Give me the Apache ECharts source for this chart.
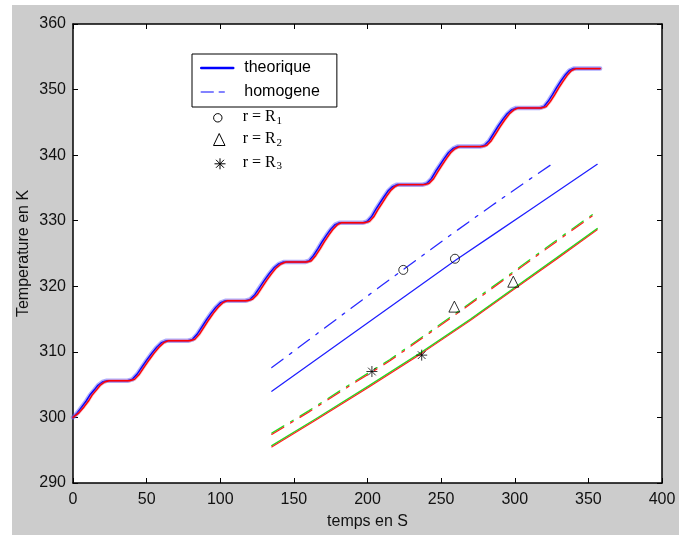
<!DOCTYPE html>
<html><head><meta charset="utf-8">
<script src="https://cdn.jsdelivr.net/npm/echarts@6/dist/echarts.min.js"></script>
<style>
html,body{margin:0;padding:0;background:#fff;}
#chart{width:686px;height:535px;background-color:#fff;background-image:linear-gradient(#cccccc,#cccccc);background-repeat:no-repeat;background-position:12px 5px;background-size:667px 530px;}
</style></head><body><div id="chart"></div>
<script>
// ---- data ----
const xMin = 0, xMax = 400, xStep = 50;
const yMin = 290, yMax = 360, yStep = 10;

// staircase (surface) temperature, theorique (blue)
const stairTime = [0,3,6,9,11.5,14.5,17,20,23,
  37,40.3,43.6,46.9,50.3,53.6,56.9,60.2,63.5,
  78,81.2,84.4,87.6,90.75,93.9,97.1,100.3,103.5,
  117,120.25,123.5,126.75,130,133.25,136.5,139.75,143,
  157.5,160.4,163.4,166.3,169.25,172.2,175.1,178.1,181,
  197,199.9,202.75,205.6,208.5,211.4,214.25,217.1,220,
  237.5,240.4,243.4,246.3,249.25,252.2,255.1,258.1,261,
  276.5,279.6,282.6,285.7,288.75,291.8,294.9,297.9,301,
  317,319.9,322.75,325.6,328.5,331.4,334.25,337.1,340,
  358];
const stairTemp = [300,300.7,301.6,302.5,303.4,304.2,304.9,305.4,305.6,
  305.6,305.8,306.6,307.7,308.8,309.8,310.7,311.4,311.7,
  311.7,311.9,312.7,313.8,314.9,315.9,316.8,317.5,317.8,
  317.8,318.0,318.7,319.8,320.9,321.9,322.8,323.4,323.7,
  323.7,323.9,324.7,325.7,326.8,327.8,328.7,329.4,329.7,
  329.7,329.9,330.6,331.7,332.7,333.7,334.6,335.2,335.5,
  335.5,335.7,336.4,337.5,338.5,339.5,340.4,341.0,341.3,
  341.3,341.5,342.2,343.3,344.4,345.4,346.3,346.9,347.2,
  347.2,347.4,348.2,349.2,350.3,351.3,352.2,352.9,353.2,
  353.2];
// red staircase lags the blue one slightly
const stairTimeRed = [0,4,7.5,10.5,13,16,18.5,21.5,24.5,
  38.5,41.8,45.1,48.4,51.8,55.1,58.4,61.7,65,
  79.5,82.7,85.9,89.1,92.25,95.4,98.6,101.8,105,
  118.5,121.75,125,128.25,131.5,134.75,138,141.25,144.5,
  159,161.9,164.9,167.8,170.75,173.7,176.6,179.6,182.5,
  198.5,201.4,204.25,207.1,210,212.9,215.75,218.6,221.5,
  239,241.9,244.9,247.8,250.75,253.7,256.6,259.6,262.5,
  278,281.1,284.1,287.2,290.25,293.3,296.4,299.4,302.5,
  318.5,321.4,324.25,327.1,330,332.9,335.75,338.6,341.5,
  358];

// inner temperatures
const blueSolidT = [135,160,185,210,235,260,285,310,335,356];
const blueSolidV = [304.0,308.0,312.0,316.0,320.0,324.0,327.8,331.6,335.4,338.6];
const blueDashT  = [135,160,185,210,235,260,285,310,325];
const blueDashV  = [307.6,311.8,316.0,320.2,324.3,328.4,332.4,336.3,338.6];
const greenDashT = [135,160,185,215,245,275,305,335,355];
const greenDashV = [297.6,301.0,304.6,308.8,313.5,318.3,323.2,328.1,331.3];
const redDashV   = [297.4,300.8,304.4,308.6,313.3,318.1,323.0,327.9,331.1];
const greenSolidT = [135,165,200,237,270,300,330,356];
const greenSolidV = [295.7,299.8,304.7,310.0,315.0,319.8,324.6,328.8];
const redSolidV   = [295.5,299.6,304.5,309.8,314.8,319.6,324.4,328.6];

// markers r = R1 (circle), R2 (triangle), R3 (star)
const circlePts   = [[224.3,322.5],[259.4,324.2]];
const trianglePts = [[259,316.9],[299,320.7]];
const starPts     = [[203,307.0],[236.8,309.5]];

const legendNames = ['theorique','homogene'];
const annotLabels = ['r = R','r = R','r = R'];
const annotSubs = ['1','2','3'];

// ---- chart ----
const zip = (ts, vs) => ts.map((t, i) => [t, vs[i]]);
const SANS = 'Liberation Sans';
const SERIF = 'Liberation Serif';
const dashDot = [14, 8, 3, 8];

function lineS(name, data, color, width, dash, z) {
  return {
    name, type: 'line', data, showSymbol: false, symbol: 'none', smooth: false,
    lineStyle: { color, width, type: dash || 'solid', cap: 'round', join: 'round' },
    itemStyle: { color }, z: z || 2, silent: true
  };
}

const axisCommonX = {
  type: 'value', min: xMin, max: xMax, interval: xStep,
  splitLine: { show: false },
  axisLine: { show: true, onZero: false, lineStyle: { color: '#000', width: 1.5 } },
  axisTick: { show: true, inside: true, length: 5, lineStyle: { color: '#000', width: 1 } }
};
const axisCommonY = {
  type: 'value', min: yMin, max: yMax, interval: yStep,
  splitLine: { show: false },
  axisLine: { show: true, onZero: false, lineStyle: { color: '#000', width: 1.5 } },
  axisTick: { show: true, inside: true, length: 5, lineStyle: { color: '#000', width: 1 } }
};

const starPath = 'path://M5 0 L5 10 M0 5 L10 5 M1.5 1.5 L8.5 8.5 M8.5 1.5 L1.5 8.5';

const graphics = [
  { type: 'circle', shape: { cx: 217.8, cy: 117.8, r: 4.2 }, style: { fill: 'none', stroke: '#000', lineWidth: 1 } },
  { type: 'polygon', shape: { points: [[219.2, 133.5], [213.5, 145.5], [225, 145.5]] }, style: { fill: 'none', stroke: '#000', lineWidth: 1 } },
  { type: 'line', shape: { x1: 220, y1: 158.3, x2: 220, y2: 169.3 }, style: { stroke: '#000', lineWidth: 1 } },
  { type: 'line', shape: { x1: 214.5, y1: 163.8, x2: 225.5, y2: 163.8 }, style: { stroke: '#000', lineWidth: 1 } },
  { type: 'line', shape: { x1: 216, y1: 159.8, x2: 224, y2: 167.8 }, style: { stroke: '#000', lineWidth: 1 } },
  { type: 'line', shape: { x1: 224, y1: 159.8, x2: 216, y2: 167.8 }, style: { stroke: '#000', lineWidth: 1 } }
];
const rowY = [116.7, 139, 162.5];
annotLabels.forEach((t, i) => {
  graphics.push({ type: 'text', x: 242.7, y: rowY[i], style: { text: t, fontFamily: SERIF, fontSize: 16, fill: '#000', align: 'left', verticalAlign: 'middle' } });
  graphics.push({ type: 'text', x: 276.5, y: rowY[i] + 4, style: { text: annotSubs[i], fontFamily: SERIF, fontSize: 11, fill: '#000', align: 'left', verticalAlign: 'middle' } });
});

const option = {
  animation: false,
  backgroundColor: 'transparent',
  grid: { left: 73, top: 24, width: 589, height: 462, show: true, backgroundColor: '#fff', borderWidth: 0, containLabel: false },
  xAxis: [
    Object.assign({}, axisCommonX, {
      position: 'bottom',
      axisLabel: { fontFamily: SANS, fontSize: 16, color: '#111', margin: 9 },
      name: 'temps en S', nameLocation: 'middle', nameGap: 31, nameMoveOverlap: false,
      nameTextStyle: { fontFamily: SANS, fontSize: 16, color: '#111' }
    }),
    Object.assign({}, axisCommonX, { position: 'top', axisLabel: { show: false } })
  ],
  yAxis: [
    Object.assign({}, axisCommonY, {
      position: 'left',
      axisLabel: { fontFamily: SANS, fontSize: 16, color: '#111', margin: 7 },
      name: 'Temperature en K', nameLocation: 'middle', nameGap: 41, nameMoveOverlap: false,
      nameTextStyle: { fontFamily: SANS, fontSize: 16, color: '#111' }
    }),
    Object.assign({}, axisCommonY, { position: 'right', axisLabel: { show: false } })
  ],
  legend: {
    data: [
      { name: legendNames[0], itemStyle: { opacity: 0 }, lineStyle: { width: 2.5, color: '#0000ff', type: 'solid' } },
      { name: legendNames[1], itemStyle: { opacity: 0 }, lineStyle: { width: 1.5, color: '#5a5aff', type: [12, 6, 5, 20] } }
    ],
    orient: 'vertical', left: 192, top: 54,
    padding: [6, 17, 7, 8],
    itemWidth: 32, itemHeight: 14, itemGap: 8,
    backgroundColor: '#fff', borderColor: '#000', borderWidth: 1, borderRadius: 0,
    itemStyle: { opacity: 0 },
    textStyle: { fontFamily: SANS, fontSize: 16, color: '#000', padding: [0, 0, 0, 6] },
    selectedMode: false
  },
  graphic: graphics,
  series: [
    // staircase
    lineS('stairLightBlue', zip(stairTime, stairTemp), 'rgba(90,90,255,0.5)', 4.5, null, 2),
    lineS('stairBlue', zip(stairTime, stairTemp), '#0000ff', 1.6, null, 3),
    lineS('stairPink', zip(stairTimeRed, stairTemp), 'rgba(255,100,100,0.35)', 3, null, 4),
    lineS('stairRed', zip(stairTimeRed, stairTemp), '#ff0000', 1.4, null, 5),
    // inner lines
    lineS('homogene', zip(blueDashT, blueDashV), '#2a2aff', 1.3, dashDot, 3),
    lineS('theorique', zip(blueSolidT, blueSolidV), '#2020ff', 1.3, null, 3),
    lineS('greenDash', zip(greenDashT, greenDashV), '#22dd22', 1.3, dashDot, 3),
    lineS('redDash', zip(greenDashT, redDashV), '#ff2020', 1.2, dashDot, 4),
    lineS('greenSolid', zip(greenSolidT, greenSolidV), '#22dd22', 1.4, null, 3),
    lineS('redSolid', zip(greenSolidT, redSolidV), '#ff2020', 1.1, null, 4),
    // markers
    { name: 'R1', type: 'scatter', data: circlePts, symbol: 'circle', symbolSize: 9, z: 6,
      itemStyle: { color: 'rgba(0,0,0,0)', borderColor: '#000', borderWidth: 1 }, silent: true },
    { name: 'R2', type: 'scatter', data: trianglePts, symbol: 'triangle', symbolSize: [11, 11], z: 6,
      itemStyle: { color: 'rgba(0,0,0,0)', borderColor: '#000', borderWidth: 1 }, silent: true },
    { name: 'R3', type: 'scatter', data: starPts, symbol: starPath, symbolSize: 11, z: 6,
      itemStyle: { color: 'rgba(0,0,0,0)', borderColor: '#000', borderWidth: 1 }, silent: true }
  ]
};

const chart = echarts.init(document.getElementById('chart'), null, { renderer: 'canvas' });
chart.setOption(option);
</script></body></html>
